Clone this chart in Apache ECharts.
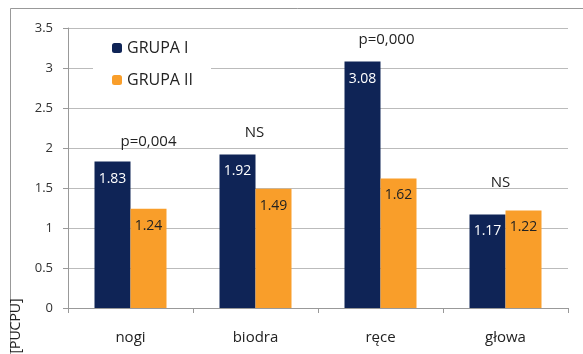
<!DOCTYPE html>
<html>
<head>
<meta charset="utf-8">
<script src="https://cdn.jsdelivr.net/npm/echarts@6/dist/echarts.min.js"></script>
<style>
  html, body { margin: 0; padding: 0; background: #fff; }
  #chart { width: 583px; height: 354px; }
</style>
</head>
<body>
<div id="chart"></div>
<script>
var categories = ['nogi', 'biodra', 'ręce', 'głowa'];
var grupa1 = [1.83, 1.92, 3.08, 1.17];
var grupa2 = [1.24, 1.49, 1.62, 1.22];
var seriesNames = ['GRUPA I', 'GRUPA II'];
// opisy istotnosci nad grupami slupkow
var pLabels = ['p=0,004', 'NS', 'p=0,000', 'NS'];
var pLevels = [2.08, 2.19, 3.35, 1.56];

var fontName = '"Open Sans", "Noto Sans", sans-serif';

var chart = echarts.init(document.getElementById('chart'));

// przesuniecie napisow wzgledem srodka niebieskiego slupka (px)
var pShift = [36, 17, 24, 13];
var marks = categories.map(function (c, i) {
    return {
        coord: [c, pLevels[i]],
        symbolSize: 0,
        label: {
            show: true,
            position: 'inside',
            offset: [pShift[i], 0],
            formatter: pLabels[i],
            color: '#222',
            fontSize: 15,
            fontFamily: fontName
        }
    };
});

var option = {
    animation: false,
    backgroundColor: '#fff',
    textStyle: { fontFamily: fontName },
    grid: { left: 68, right: 15, top: 28, bottom: 46 },
    legend: {
        orient: 'vertical',
        left: 93,
        top: 29,
        padding: [11, 18, 14, 19],
        itemGap: 16,
        itemWidth: 10,
        itemHeight: 10,
        backgroundColor: '#fff',
        data: seriesNames,
        textStyle: { fontSize: 16, color: '#222', fontFamily: fontName }
    },
    xAxis: {
        type: 'category',
        data: categories,
        axisLine: { lineStyle: { color: '#999' } },
        axisTick: { show: true, length: 5, lineStyle: { color: '#999' } },
        axisLabel: { fontSize: 15, color: '#222', margin: 22 }
    },
    yAxis: {
        type: 'value',
        min: 0,
        max: 3.5,
        interval: 0.5,
        axisLine: { show: true, lineStyle: { color: '#999' } },
        axisTick: { show: true, length: 5, lineStyle: { color: '#999' } },
        axisLabel: { fontSize: 13, color: '#333', margin: 15 },
        splitLine: { lineStyle: { color: '#bbb' } }
    },
    series: [
        {
            name: seriesNames[0],
            type: 'bar',
            data: grupa1,
            barWidth: 36,
            barGap: '0%',
            itemStyle: { color: '#0F2456' },
            label: {
                show: true,
                position: 'insideTop',
                distance: 10,
                color: '#fff',
                fontSize: 14
            },
            markPoint: { symbol: 'circle', symbolSize: 0, data: marks }
        },
        {
            name: seriesNames[1],
            type: 'bar',
            data: grupa2,
            barWidth: 36,
            barGap: '0%',
            itemStyle: { color: '#F99E2A' },
            label: {
                show: true,
                position: 'insideTop',
                distance: 10,
                color: '#222',
                fontSize: 14
            }
        }
    ],
    graphic: [
        {
            type: 'rect',
            shape: { x: 10.5, y: 8.5, width: 600, height: 400 },
            style: { fill: 'none', stroke: '#999', lineWidth: 1 },
            silent: true
        },
        {
            type: 'text',
            x: 16,
            y: 326,
            rotation: Math.PI / 2,
            style: {
                text: '[PUCPU]',
                fontSize: 14,
                fontFamily: fontName,
                fill: '#222',
                align: 'center',
                verticalAlign: 'middle'
            }
        }
    ]
};

chart.setOption(option);
</script>
</body>
</html>
